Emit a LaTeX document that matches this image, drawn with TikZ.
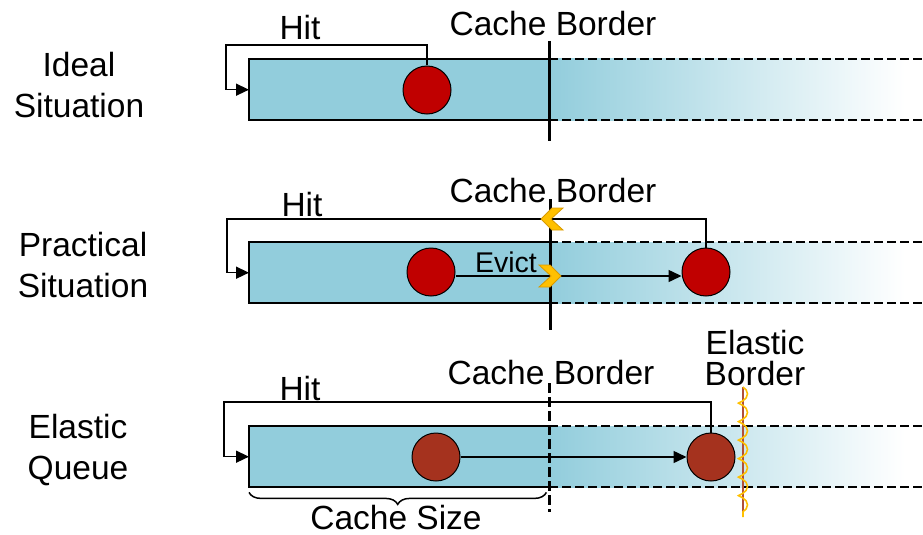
\documentclass[tikz,border=0pt]{standalone}
\usepackage{fontspec}
\setmainfont{Liberation Sans}
\usetikzlibrary{arrows.meta,decorations.pathreplacing,decorations.pathmorphing}
\definecolor{boxblue}{HTML}{92CDDC}
\definecolor{circred}{HTML}{C00000}
\definecolor{circbrown}{HTML}{A5321E}
\definecolor{chevfill}{HTML}{FFC000}
\definecolor{chevline}{HTML}{D99A00}
\definecolor{elasticline}{HTML}{B0503A}
\tikzset{
  chevright/.pic={\filldraw[fill=chevfill, draw=chevline, line width=0.8pt]
     (-11,-11) -- (0,-11) -- (11,0) -- (0,11) -- (-11,11) -- (1,0) -- cycle;},
  chevleft/.pic={\filldraw[fill=chevfill, draw=chevline, line width=0.8pt]
     (11,-11) -- (0,-11) -- (-11,0) -- (0,11) -- (11,11) -- (-1,0) -- cycle;}
}
\begin{document}
\begin{tikzpicture}[x=1pt,y=-1pt,
  lbl/.style={font=\fontsize{33.5}{41}\selectfont, inner sep=0pt, align=center},
  onelbl/.style={font=\fontsize{33.5}{41}\selectfont, inner sep=0pt},
  smalllbl/.style={font=\fontsize{28.5}{34}\selectfont, inner sep=0pt},
  qbox/.style={fill=boxblue, draw=none, minimum width=300pt, minimum height=61pt, inner sep=0pt, anchor=north west},
  qedge/.style={line width=2pt},
  dashedge/.style={line width=2pt, dash pattern=on 9pt off 4pt},
  fade/.style={left color=boxblue, right color=white, draw=none},
  ball/.style={circle, minimum size=48pt, inner sep=0pt, draw=black, line width=1pt},
  hitline/.style={line width=1.5pt, -{Triangle[length=13pt,width=12pt]}},
  borderline/.style={line width=3pt},
  dashborder/.style={line width=3pt, dash pattern=on 10pt off 4pt},
  bracestyle/.style={decorate, decoration={brace, mirror, amplitude=12pt}, line width=1.5pt}
]
\useasboundingbox (0,0) rectangle (923,535);
\coordinate (farright) at (923,0);

% ---------- Row 1 : Ideal Situation ----------
\node[qbox] (q1) at (249,59) {};
\fill[fade] (q1.north east) rectangle (905,120);
\draw[qedge] (q1.north east) -- (q1.north west) -- (q1.south west) -- (q1.south east);
\draw[dashedge] (q1.north east) -- (q1.north east -| farright);
\draw[dashedge] (q1.south east) -- (q1.south east -| farright);
\node[ball, fill=circred] (b1) at (427,90) {};
\coordinate (h1) at (226,45);
\draw[hitline] (b1.north) |- (h1) |- (q1.west);
\coordinate (cb1t) at (549,41);
\coordinate (cb1b) at (549,141);
\draw[borderline] (cb1t) -- (cb1b);
\node[lbl] (t1) at (79,85) {Ideal\\Situation};
\node[onelbl] (hit1) at (300,27) {Hit};
\node[onelbl] (cbl1) at (553,24) {Cache Border};

% ---------- Row 2 : Practical Situation ----------
\node[qbox] (q2) at (249,242) {};
\fill[fade] (q2.north east) rectangle (905,303);
\draw[qedge] (q2.north east) -- (q2.north west) -- (q2.south west) -- (q2.south east);
\draw[dashedge] (q2.north east) -- (q2.north east -| farright);
\draw[dashedge] (q2.south east) -- (q2.south east -| farright);
\node[ball, fill=circred] (b2a) at (431,272) {};
\node[ball, fill=circred] (b2b) at (706,272) {};
\coordinate (h2) at (227,219);
\draw[hitline] (b2b.north) |- (h2) |- (q2.west);
\draw[hitline] ([yshift=-4pt]b2a.east) -- ([yshift=-4pt]b2b.west);
\coordinate (cb2t) at (550,199);
\coordinate (cb2b) at (550,330);
\draw[borderline] (cb2t) -- (cb2b);
\pic at (552,219) {chevleft};
\pic at (550,276) {chevright};
\node[lbl] (t2) at (83,265) {Practical\\Situation};
\node[onelbl] (hit2) at (302,204) {Hit};
\node[onelbl] (cbl2) at (553,191) {Cache Border};
\node[smalllbl] (ev) at (506,262) {Evict};

% ---------- Row 3 : Elastic Queue ----------
\node[qbox] (q3) at (249,426) {};
\fill[fade] (q3.north east) rectangle (905,487);
\draw[qedge] (q3.north east) -- (q3.north west) -- (q3.south west) -- (q3.south east);
\draw[dashedge] (q3.north east) -- (q3.north east -| farright);
\draw[dashedge] (q3.south east) -- (q3.south east -| farright);
\node[ball, fill=circbrown] (b3a) at (436,457) {};
\node[ball, fill=circbrown] (b3b) at (711,457) {};
\coordinate (h3) at (224,402);
\draw[hitline] (b3b.north) |- (h3) |- (q3.west);
\draw[hitline] (b3a.east) -- (b3b.west);
\coordinate (cb3t) at (549,383);
\coordinate (cb3b) at (549,512);
\draw[dashborder] (cb3t) -- (cb3b);
\coordinate (eb3t) at (743,387);
\coordinate (eb3b) at (743,517);
\draw[elasticline, line width=2pt] (eb3t) -- (eb3b);
\draw[chevfill, line width=1.6pt, decorate, decoration={coil, segment length=18.5pt, amplitude=4.5pt}] (eb3t) -- (eb3b);
\draw[bracestyle] ([yshift=-5pt]q3.south west) -- ([yshift=-5pt,xshift=-3pt]q3.south east);
\node[lbl] (t3) at (78,450) {Elastic\\Queue};
\node[onelbl] (hit3) at (300,388) {Hit};
\node[onelbl] (cbl3) at (551,373) {Cache Border};
\node[lbl, font=\fontsize{33.5}{31}\selectfont] (ebl) at (755,358) {Elastic\\Border};
\node[onelbl] (csize) at (396,518) {Cache Size};
\end{tikzpicture}
\end{document}
